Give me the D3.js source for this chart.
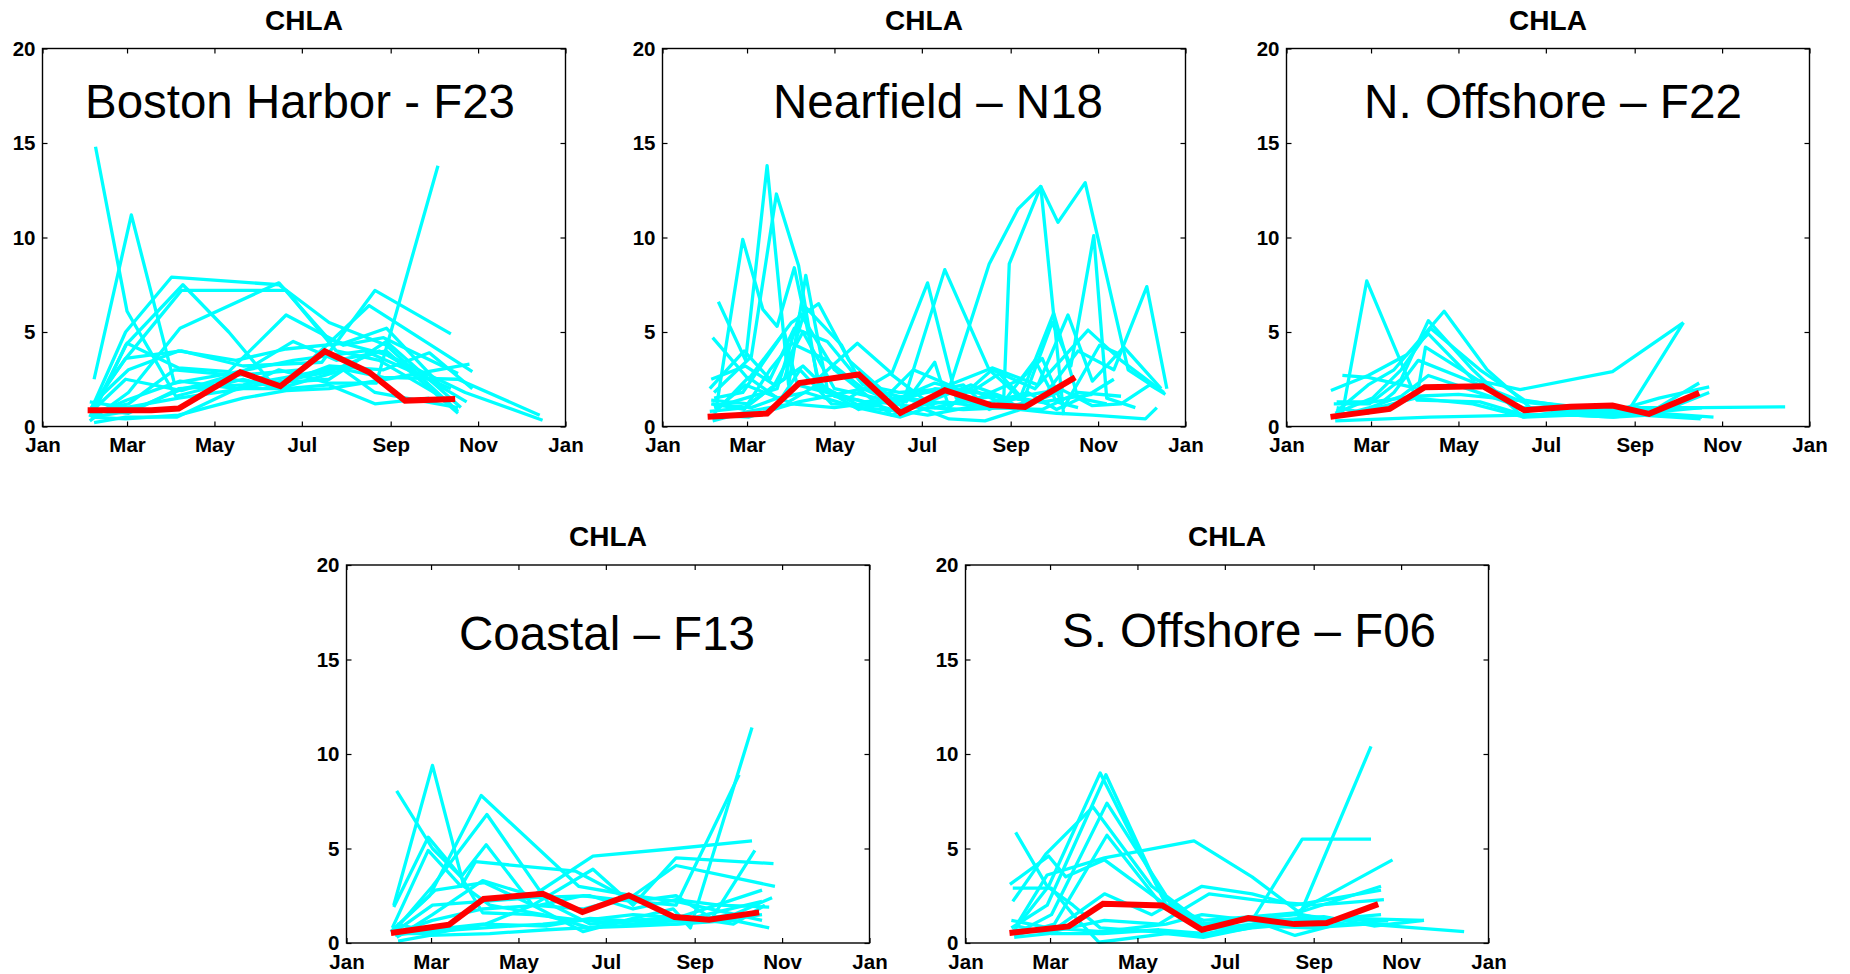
<!DOCTYPE html>
<html>
<head>
<meta charset="utf-8">
<script src="https://cdn.jsdelivr.net/npm/d3@7"></script>
<style>
  html, body { margin: 0; padding: 0; background: #fff; }
  svg { display: block; }
  text { font-family: "Liberation Sans", Arial, Helvetica, sans-serif; }
</style>
</head>
<body>
<svg id="chart" width="1850" height="974"></svg>
<script>
// ---------------- DATA ----------------
// x values are day of year (0 = Jan 1), y values are CHLA
const monthTickDays = [0, 59, 120, 181, 243, 304, 365];
const monthTickLabels = ["Jan", "Mar", "May", "Jul", "Sep", "Nov", "Jan"];
const valueTicks = [0, 5, 10, 15, 20];
const panelTitles = ["CHLA", "CHLA", "CHLA", "CHLA", "CHLA"];
const stationLabels = ["Boston Harbor - F23", "Nearfield \u2013 N18", "N. Offshore \u2013 F22", "Coastal \u2013 F13", "S. Offshore \u2013 F06"];

// Boston Harbor - F23
const f23Years = [
  [[37,14.8],[59,6.1],[75,4.0],[93,1.6],[140,2.5],[165,2.0],[210,3.0],[232,1.8],[290,1.0]],
  [[36,2.5],[62,11.2],[92,2.3],[130,2.8],[175,3.5],[225,4.0],[285,2.0]],
  [[34,0.9],[58,5.0],[90,7.9],[165,7.5],[200,5.5],[240,4.3],[290,0.8]],
  [[35,0.6],[58,4.3],[98,7.5],[130,5.0],[160,2.3],[200,2.5],[240,4.5],[292,1.0]],
  [[34,1.0],[57,3.5],[97,7.2],[170,7.2],[205,4.0],[235,3.5],[280,1.5]],
  [[33,0.3],[60,1.8],[96,5.2],[165,7.6],[200,4.6],[240,3.8],[296,1.3]],
  [[33,0.5],[59,4.4],[95,3.1],[130,2.9],[170,5.9],[210,4.3],[238,4.7],[290,2.8]],
  [[35,1.1],[58,3.6],[97,4.0],[140,3.2],[195,3.4],[232,7.2],[285,4.9]],
  [[34,0.8],[60,1.2],[92,3.0],[135,2.7],[180,3.0],[228,6.4],[300,2.9]],
  [[36,0.2],[58,0.5],[94,0.5],[130,1.8],[165,3.0],[200,2.3],[233,2.3],[276,13.8]],
  [[35,0.9],[60,0.7],[95,2.0],[140,2.2],[170,2.6],[205,3.1],[238,2.6],[290,2.5],[347,0.6]],
  [[34,0.6],[59,1.4],[96,2.4],[135,2.0],[168,2.4],[200,2.9],[235,4.0],[295,1.8],[349,0.33]],
  [[33,1.3],[58,1.0],[95,1.5],[140,2.0],[170,2.0],[200,2.2],[232,1.2],[270,1.5]],
  [[34,0.5],[58,0.4],[95,0.6],[140,1.5],[170,1.9],[200,2.0],[240,2.5],[298,3.3]],
  [[35,1.2],[60,3.0],[95,4.0],[135,3.5],[170,4.1],[210,4.4],[240,5.2],[280,2.0]],
  [[33,0.7],[58,2.5],[97,1.9],[140,2.9],[175,4.5],[205,3.5],[240,4.0],[290,0.7]],
  [[34,0.5],[60,0.8],[98,2.0],[130,2.5],[165,2.2],[200,3.2],[238,3.0],[270,3.9],[300,2.0]]
];
const f23Mean = [[31.5,0.86],[76,0.86],[95,0.95],[138,2.87],[166,2.13],[197,3.98],[228,2.87],[253,1.37],[288,1.46]];

// Nearfield - N18
const n18Years = [
  [[38,1.2],[56,9.9],[70,6.2],[80,5.3],[92,8.4],[110,2.0],[140,1.3],[170,1.5],[200,1.2],[230,1.6],[265,1.3],[300,1.7]],
  [[39,6.6],[58,3.5],[73,13.8],[88,2.2],[100,8.0],[115,2.0],[140,1.0],[166,0.8],[197,8.3],[228,3.0],[250,1.5],[270,1.2]],
  [[36,1.8],[62,3.7],[79.5,12.3],[95,8.5],[108,2.5],[136,4.4],[160,2.8],[185,7.6],[205,1.5],[228,1.0],[250,1.6],[280,2.0]],
  [[35,4.7],[60,2.5],[90,5.5],[109,6.5],[130,3.5],[160,1.5],[185,1.8],[210,2.2],[228,0.9],[250,1.6],[273,6.0],[290,1.5],[310,1.2]],
  [[33,2.0],[57,4.0],[75,2.5],[92,5.2],[115,4.5],[140,2.2],[165,1.8],[200,2.0],[228,8.6],[248,11.5],[264,12.7],[280,0.6]],
  [[36,1.0],[58,1.5],[80,2.0],[96,6.0],[120,3.0],[160,0.6],[185,1.5],[215,2.0],[238,1.2],[242,8.6],[264,12.7],[276,10.8],[295,12.9],[325,3.0],[345,2.0]],
  [[34,1.4],[60,1.2],[85,2.5],[100,6.3],[125,4.3],[137,2.5],[160,1.2],[190,2.0],[230,1.7],[250,1.0],[272,5.5],[285,3.2],[301,10.1],[310,1.5],[330,1.0]],
  [[35,0.3],[60,0.8],[90,1.2],[120,1.0],[150,1.3],[180,1.0],[200,0.4],[225,0.3],[250,0.9],[275,0.7],[300,0.6],[337,0.4],[345,1.0]],
  [[35,1.2],[62,1.0],[80,1.5],[100,1.8],[136,1.0],[166,0.5],[185,1.0],[210,0.9],[240,1.0],[265,1.5],[290,4.0],[315,3.0],[338,7.4],[352,2.0]],
  [[34,2.5],[58,3.2],[78,2.2],[98,5.0],[120,2.0],[150,1.5],[170,1.3],[190,3.4],[200,1.0],[230,3.0],[260,2.0],[297,5.1],[320,3.5],[350,1.8]],
  [[36,1.5],[56,1.8],[85,5.0],[94,2.2],[130,1.5],[159,2.8],[190,1.0],[220,1.5],[250,2.5],[265,3.6],[280,1.0],[305,4.3],[320,3.8]],
  [[33,0.8],[58,1.0],[75,2.0],[98,3.2],[120,1.6],[137,1.4],[160,0.9],[185,0.6],[220,1.1],[255,1.8],[275,0.9],[300,1.8],[315,2.5]],
  [[35,0.6],[60,0.5],[95,1.3],[115,1.6],[140,2.0],[170,1.0],[197,1.3],[228,1.0],[265,0.9],[290,1.8],[320,1.6]],
  [[37,0.9],[58,2.2],[88,1.3],[108,2.2],[137,0.9],[165,1.5],[190,2.3],[215,1.8],[235,2.8],[255,1.2],[280,1.9],[300,1.1],[320,1.2],[340,2.2],[351,1.7]],
  [[34,1.2],[57,0.9],[75,3.0],[90,4.4],[115,3.5],[140,2.0],[160,1.7],[182,1.2],[215,2.2],[240,1.5],[260,3.5],[275,1.3],[290,1.0]],
  [[36,0.7],[60,2.6],[82,1.4],[96,3.0],[118,1.2],[150,1.1],[175,3.0],[200,2.2],[230,3.1],[262,2.2],[283,5.9],[300,2.4],[322,4.2],[348,2.0]]
];
const n18Mean = [[31.5,0.51],[73,0.69],[95.5,2.3],[137,2.75],[166,0.72],[197,1.92],[229,1.13],[253,1.04],[288,2.6]];

// N. Offshore - F22
const f22Years = [
  [[39,0.7],[56,7.7],[91,1.4],[135,1.3],[166,0.6],[200,0.6],[228,0.5],[253,0.6],[290,0.5]],
  [[35,0.8],[57,2.2],[75,3.0],[110,6.1],[140,3.0],[170,1.0],[200,0.8],[230,0.7],[260,0.9],[290,1.0]],
  [[33,1.2],[58,1.2],[80,2.5],[99,5.6],[130,3.0],[165,0.5],[200,0.9],[228,0.8],[260,1.5],[295,2.1]],
  [[34,0.7],[60,1.5],[80,3.0],[100.5,5.2],[135,3.0],[166,1.4],[200,1.0],[228,1.0],[255,0.8],[288,2.3]],
  [[31,1.9],[57,2.7],[84,3.8],[99,4.9],[130,2.5],[163,1.95],[227.5,2.9],[277,5.5]],
  [[39,2.7],[57,2.6],[92,2.0],[97,4.2],[137,2.3],[170,0.6],[200,0.7],[232,0.6],[262,0.8],[295,1.8]],
  [[34,0.3],[100,0.5],[166,0.6],[228,0.7],[289,0.4]],
  [[35,1.0],[57,0.7],[75,1.8],[92,3.5],[125,2.5],[165,1.3],[200,1.0],[227,0.8],[240,1.0],[277,5.5]],
  [[33,0.5],[58,1.0],[80,1.6],[99,2.7],[130,1.9],[165,1.0],[200,0.9],[230,1.0],[265,1.0],[290,1.0],[348,1.04]],
  [[35,1.3],[60,1.3],[90,1.6],[120,1.7],[160,1.4],[195,1.1],[230,0.9],[260,0.7],[298,0.5]],
  [[38,0.6],[58,0.9],[90,1.5],[130,1.2],[166,0.5],[200,0.6],[228,0.5],[262,0.8],[290,1.0]]
];
const f22Mean = [[30.7,0.51],[72,0.93],[96.5,2.08],[137,2.13],[166,0.86],[198,1.04],[227.5,1.11],[253,0.67],[288,1.78]];

// Coastal - F13
const f13Years = [
  [[35,8.05],[60,5.0],[80,3.5],[95,1.6],[130,1.5],[165,1.2],[200,1.0],[230,1.0],[260,1.2],[290,1.5]],
  [[33,2.0],[60,9.4],[82,3.0],[100,2.0],[137,1.5],[170,0.8],[200,1.2],[235,1.4],[270,1.0],[292,2.0]],
  [[31,0.6],[58,2.5],[94,7.8],[162,3.0],[200,2.5],[230,2.2],[260,1.7],[290,1.2]],
  [[34,0.7],[60,3.0],[98,6.8],[141,2.1],[170,1.0],[200,1.2],[230,1.3],[290,2.8]],
  [[33,1.9],[57,5.6],[80,3.5],[97.5,5.2],[130,2.0],[165,0.6],[200,1.3],[228,1.8],[240,0.8],[283,11.4]],
  [[32,0.8],[57,4.9],[80,3.0],[90,4.3],[160,3.8],[200,2.2],[230,2.0],[274,8.9]],
  [[35,0.3],[60,1.5],[95,3.3],[130,2.5],[172,4.6],[230,5.0],[283,5.4]],
  [[31,0.6],[62,2.8],[96,3.2],[130,2.0],[172,3.9],[200,2.0],[230,4.5],[298,4.2]],
  [[34,0.5],[60,0.5],[97,1.0],[130,2.0],[165,1.8],[200,2.5],[230,4.1],[299,3.0]],
  [[36,0.1],[58,0.4],[100,0.5],[140,0.7],[165,0.8],[200,0.9],[230,1.0],[270,1.2],[295,0.8]],
  [[33,0.5],[60,1.2],[95,1.8],[135,2.0],[165,2.5],[200,2.2],[230,2.5],[255,1.3],[285,4.9]],
  [[35,1.0],[58,0.6],[96,0.8],[137,1.0],[165,1.2],[200,1.5],[240,1.3],[290,2.2]],
  [[32,0.5],[60,2.0],[96,2.2],[130,2.4],[170,2.5],[200,1.8],[230,2.3],[260,2.0],[295,1.9]],
  [[34,0.4],[58,0.7],[95,1.0],[140,0.9],[170,1.3],[210,1.1],[240,1.2],[270,1.5],[297,2.4]]
];
const f13Mean = [[31,0.53],[71.6,0.97],[95.7,2.33],[137,2.6],[164.6,1.64],[197,2.52],[229,1.37],[253,1.23],[288,1.62]];

// S. Offshore - F06
const f06Years = [
  [[35,5.85],[57,3.0],[75,2.0],[94,0.8],[130,0.6],[165,0.4],[200,0.8],[230,1.0],[260,1.3],[290,1.5]],
  [[33,0.6],[58,3.0],[94,9.0],[137,2.5],[165,0.8],[200,1.3],[230,1.5],[255,1.3],[290,1.2]],
  [[32,0.8],[57,2.0],[98,8.9],[140,2.0],[165,0.7],[200,1.0],[230,0.9],[283,10.4]],
  [[35,0.5],[60,1.5],[98.7,7.4],[140,2.5],[166,1.0],[200,1.2],[235,5.5],[283,5.5]],
  [[33,2.2],[56,4.7],[89,7.2],[130,3.0],[165,1.0],[200,1.3],[240,1.2],[270,1.3],[320,1.2]],
  [[34,0.4],[62,1.0],[98.7,5.7],[135,2.2],[166,1.2],[200,1.4],[232,1.6],[290,3.0]],
  [[31,3.1],[58,4.6],[70,3.5],[97,4.4],[140,2.0],[165,1.0],[200,1.3],[228,1.5],[298,4.4]],
  [[36,1.0],[57,3.6],[97,4.5],[159.5,5.4],[200,3.5],[235,1.5],[265,1.0],[295,1.2]],
  [[33,2.9],[60,2.9],[75,1.5],[93,0.04],[140,0.5],[166,0.3],[205,0.9],[240,0.8],[280,1.0],[348,0.6]],
  [[34,0.3],[58,0.5],[97,2.6],[130,1.5],[165,3.0],[200,2.6],[230,2.0],[290,2.8]],
  [[35,0.7],[60,0.6],[97,1.2],[135,1.0],[170,2.6],[210,2.2],[245,2.0],[292,2.3]],
  [[32,1.2],[58,0.8],[95,0.6],[140,1.0],[165,1.5],[200,1.2],[230,0.4],[260,1.0],[295,1.0]],
  [[36,0.9],[60,0.5],[96,0.5],[135,0.7],[168,0.5],[215,1.2],[250,1.4],[285,0.9],[320,1.2]]
];
const f06Mean = [[30.7,0.53],[72,0.88],[96,2.08],[137.4,1.99],[165,0.7],[197.4,1.32],[229.4,1.0],[252,1.06],[288,2.06]];

// ---------------- LAYOUT ----------------
const yearSets = [f23Years, n18Years, f22Years, f13Years, f06Years];
const meanSets = [f23Mean, n18Mean, f22Mean, f13Mean, f06Mean];
const panelPos = [
  { left: 42.5,  top: 48.5, labelX: 85,   labelY: 118, labelW: 430 },
  { left: 662.5, top: 48.5, labelX: 773,  labelY: 118, labelW: 330 },
  { left: 1286.5,top: 48.5, labelX: 1364, labelY: 118, labelW: 378 },
  { left: 346.5, top: 565,  labelX: 459,  labelY: 650, labelW: 296 },
  { left: 965.5, top: 565,  labelX: 1062, labelY: 647, labelW: 374 }
];
const W = 523, H = 378, TICK = 5;

const svg = d3.select("#chart");
svg.append("rect").attr("width", 1850).attr("height", 974).attr("fill", "#fff");

const x = d3.scaleLinear().domain([0, 365]).range([0, W]);
const y = d3.scaleLinear().domain([0, 20]).range([H, 0]);
const line = d3.line().x(d => x(d[0])).y(d => y(d[1]));

panelPos.forEach((p, i) => {
  const g = svg.append("g").attr("transform", `translate(${p.left},${p.top})`);

  // title
  g.append("text")
    .attr("x", W / 2).attr("y", -19)
    .attr("text-anchor", "middle")
    .attr("font-size", 28).attr("font-weight", "bold")
    .text(panelTitles[i]);

  // cyan yearly lines
  g.append("g").selectAll("path")
    .data(yearSets[i]).join("path")
    .attr("d", line)
    .attr("fill", "none")
    .attr("stroke", "#00FFFF")
    .attr("stroke-width", 3.3)
    .attr("stroke-linejoin", "round");

  // red mean line
  g.append("path")
    .datum(meanSets[i])
    .attr("d", line)
    .attr("fill", "none")
    .attr("stroke", "#FF0000")
    .attr("stroke-width", 6)
    .attr("stroke-linejoin", "miter");

  // axes
  const tickFont = sel => sel.selectAll("text")
    .attr("font-family", "Liberation Sans, Arial, sans-serif")
    .attr("font-size", 20.5).attr("font-weight", "bold").attr("fill", "#000");

  const xb = g.append("g").attr("transform", `translate(0,${H})`)
    .call(d3.axisBottom(x).tickValues(monthTickDays)
      .tickFormat((d, k) => monthTickLabels[k])
      .tickSizeInner(-TICK).tickSizeOuter(0).tickPadding(12));
  xb.select(".domain").remove();
  xb.selectAll("text").attr("dy", null).attr("y", 25.5);
  tickFont(xb);

  const xt = g.append("g")
    .call(d3.axisTop(x).tickValues(monthTickDays).tickFormat("")
      .tickSizeInner(-TICK).tickSizeOuter(0));
  xt.select(".domain").remove();

  const yl = g.append("g")
    .call(d3.axisLeft(y).tickValues(valueTicks).tickFormat(d3.format("d"))
      .tickSizeInner(-TICK).tickSizeOuter(0).tickPadding(7));
  yl.select(".domain").remove();
  tickFont(yl);

  const yr = g.append("g").attr("transform", `translate(${W},0)`)
    .call(d3.axisRight(y).tickValues(valueTicks).tickFormat("")
      .tickSizeInner(-TICK).tickSizeOuter(0));
  yr.select(".domain").remove();

  g.selectAll(".tick line").attr("stroke", "#000").attr("stroke-width", 1.2);

  // box
  g.append("rect").attr("width", W).attr("height", H)
    .attr("fill", "none").attr("stroke", "#000").attr("stroke-width", 1.4);

  // station label
  g.append("text")
    .attr("x", p.labelX - p.left).attr("y", p.labelY - p.top)
    .attr("font-size", 47.5)
    .attr("textLength", p.labelW).attr("lengthAdjust", "spacingAndGlyphs")
    .text(stationLabels[i]);
});
</script>
</body>
</html>
